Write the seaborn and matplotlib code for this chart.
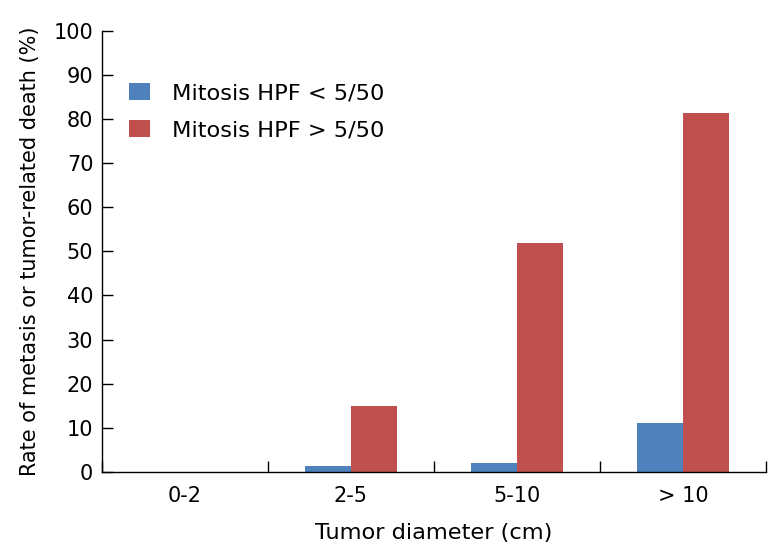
import pandas as pd
import matplotlib.pyplot as plt
import seaborn as sns

# Data
diameters = ["0-2", "2-5", "5-10", "> 10"]
low_mitosis = [0.0, 1.4, 2.0, 11.2]
high_mitosis = [0.0, 15.0, 52.0, 81.3]
series_names = ["Mitosis HPF < 5/50", "Mitosis HPF > 5/50"]
y_ticks = list(range(0, 101, 10))

df = pd.DataFrame({
    "diameter": diameters * 2,
    "rate": low_mitosis + high_mitosis,
    "group": [series_names[0]] * 4 + [series_names[1]] * 4,
})

sns.set_style("white")
plt.rcParams["font.family"] = ["DejaVu Sans"]
plt.rcParams["text.color"] = "black"
plt.rcParams["axes.labelcolor"] = "black"

fig = plt.figure(figsize=(7.68, 5.5), dpi=100)
ax = fig.add_axes([0.1324, 0.1418, 0.865, 0.8024])

sns.barplot(data=df, x="diameter", y="rate", hue="group",
            palette=["#4F81BD", "#C0504D"], width=0.554,
            saturation=1, ax=ax, linewidth=0)

ax.set_ylim(0, 100)
ax.set_xlim(-0.5, 3.5)
ax.set_yticks(y_ticks)
ax.tick_params(axis="y", left=True, direction="in", length=8, width=1,
               labelsize=15, pad=6, colors="black")
ax.set_xticks(range(len(diameters)))
ax.set_xticklabels(diameters)
ax.tick_params(axis="x", which="major", bottom=True, length=0,
               labelsize=15, pad=10, colors="black")
ax.set_xticks([i - 0.5 for i in range(len(diameters) + 1)], minor=True)
ax.tick_params(axis="x", which="minor", bottom=True, direction="in",
               length=8, width=1, colors="black")

for side in ["top", "right"]:
    ax.spines[side].set_visible(False)
for side in ["left", "bottom"]:
    ax.spines[side].set_color("black")
    ax.spines[side].set_linewidth(1)

ax.set_xlabel("Tumor diameter (cm)", fontsize=16.2, labelpad=12)
ax.set_ylabel("Rate of metasis or tumor-related death (%)", fontsize=15, labelpad=10)

ax.legend(loc="upper left", bbox_to_anchor=(0.041, 0.881), frameon=False,
          fontsize=16.2, handlelength=0.95, handleheight=0.75,
          handletextpad=0.95, labelspacing=0.75, borderpad=0, borderaxespad=0)

fig.savefig("out.png", dpi=100)
